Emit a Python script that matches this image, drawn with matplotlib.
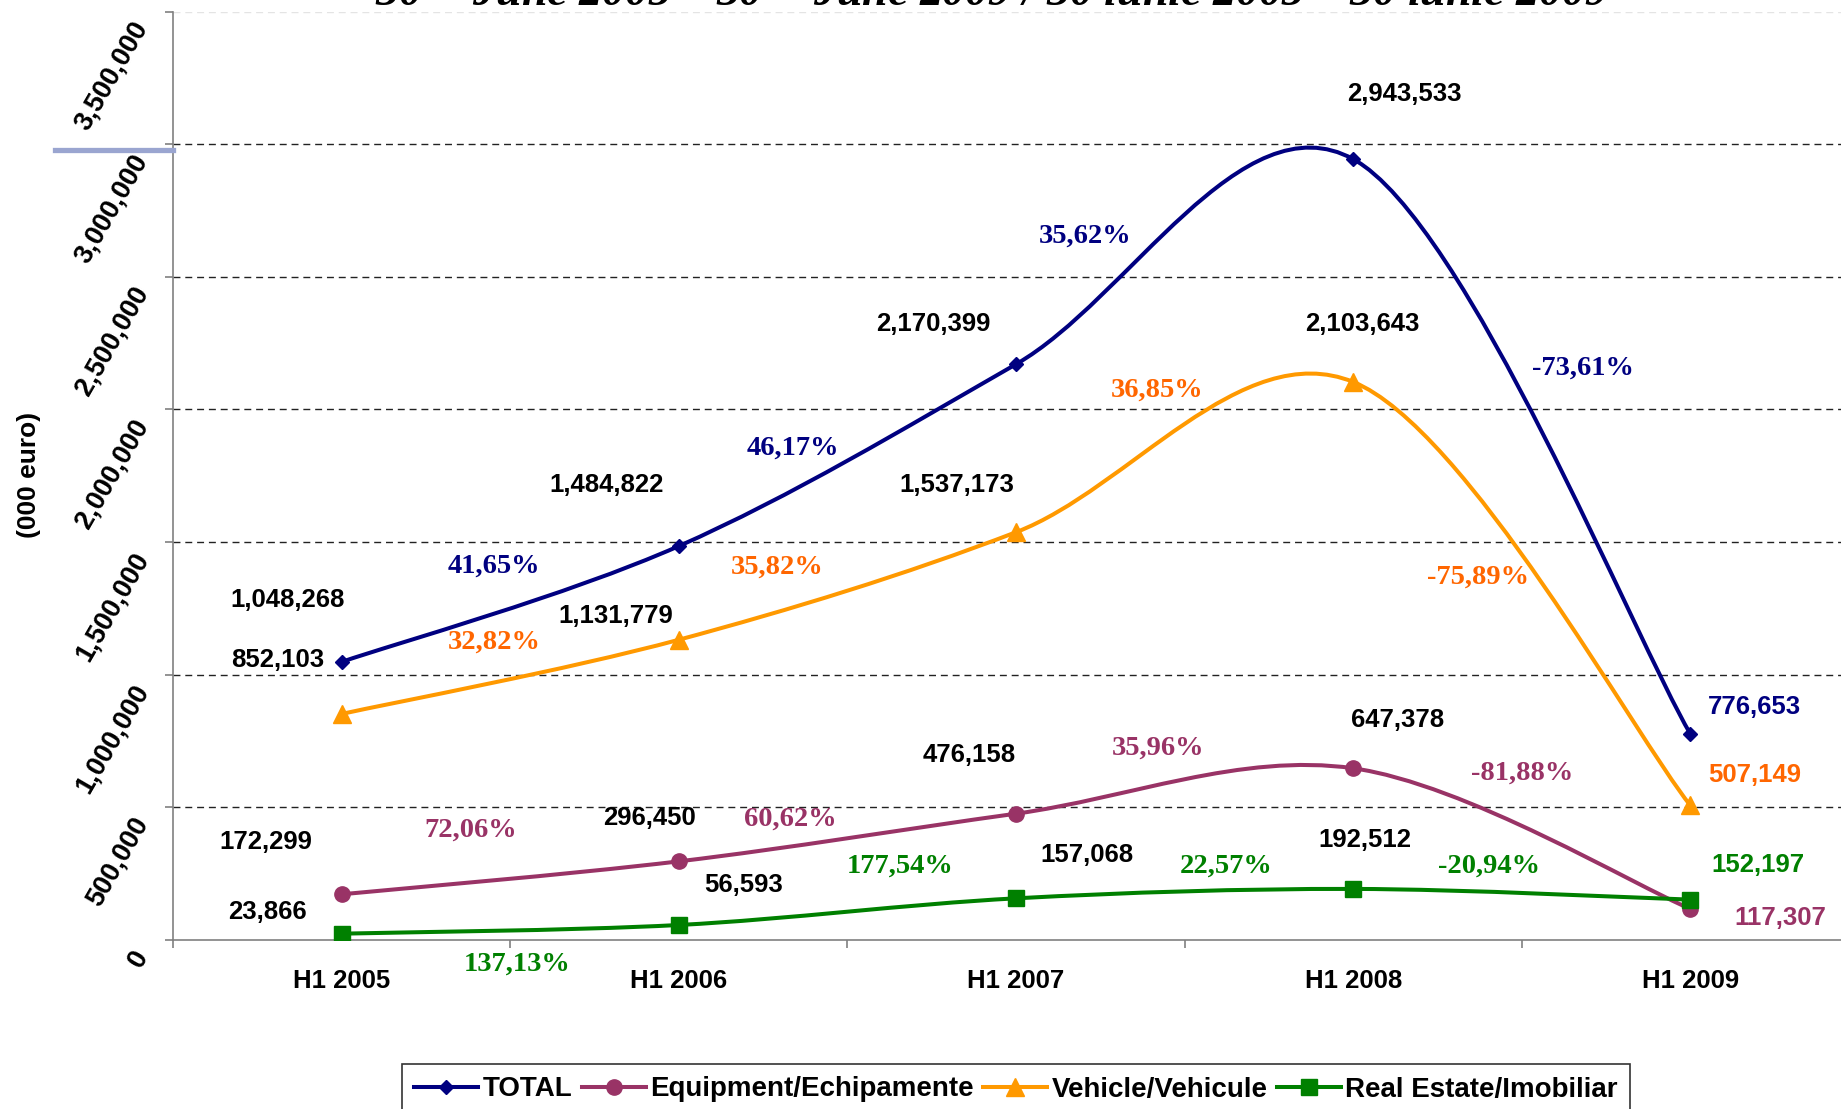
import numpy as np
import matplotlib
matplotlib.use('Agg')
import matplotlib.pyplot as plt
from matplotlib.path import Path
from matplotlib.patches import PathPatch
from matplotlib.lines import Line2D
import matplotlib.transforms as mtransforms

# --- data ---
categories = ['H1 2005', 'H1 2006', 'H1 2007', 'H1 2008', 'H1 2009']
total = [1048268, 1484822, 2170399, 2943533, 776653]
equipment = [172299, 296450, 476158, 647378, 117307]
vehicle = [852103, 1131779, 1537173, 2103643, 507149]
real_estate = [23866, 56593, 157068, 192512, 152197]
y_ticks = [0, 500000, 1000000, 1500000, 2000000, 2500000, 3000000, 3500000]

SANS = ['Liberation Sans', 'DejaVu Sans']
SERIF = ['Liberation Serif', 'DejaVu Serif']


def growth(vals):
    out = []
    for a, b in zip(vals[:-1], vals[1:]):
        out.append(('%.2f%%' % ((b / a - 1) * 100)).replace('.', ','))
    return out


def smooth_path(xs, ys):
    # excel style smoothed line: cubic bezier through the points
    pts = list(zip(xs, ys))
    n = len(pts)
    verts = [pts[0]]
    codes = [Path.MOVETO]
    for i in range(n - 1):
        p0 = pts[i - 1] if i > 0 else pts[i]
        p1 = pts[i]
        p2 = pts[i + 1]
        p3 = pts[i + 2] if i + 2 < n else pts[i + 1]
        c1 = (p1[0] + (p2[0] - p0[0]) / 6, p1[1] + (p2[1] - p0[1]) / 6)
        c2 = (p2[0] - (p3[0] - p1[0]) / 6, p2[1] - (p3[1] - p1[1]) / 6)
        verts += [c1, c2, p2]
        codes += [Path.CURVE4] * 3
    return Path(verts, codes)


fig = plt.figure(figsize=(18.41, 11.09), dpi=100)
ax = fig.add_axes([173 / 1841, 169 / 1109, 1686 / 1841, 928.5 / 1109])

x = np.arange(len(categories))

# series: values, line colour, marker, size, value-label colour at the end, pct colour
series = [
    ('TOTAL', total, '#000080', 'D', 7, '#000080', '#000080'),
    ('Equipment/Echipamente', equipment, '#993366', 'o', 11, '#993366', '#993366'),
    ('Vehicle/Vehicule', vehicle, '#FF9900', '^', 13, '#FF6600', '#FF6600'),
    ('Real Estate/Imobiliar', real_estate, '#008000', 's', 12, '#008000', '#008000'),
]

# label offsets in pixels (dx, dy) relative to the point
value_offsets = [
    [(-54, 62), (-72, 61), (-83, 40), (51, 65), (64, 27)],
    [(-76, 52), (-29, 43), (-47, 59), (44, 48), (90, -9)],
    [(-64, 54), (-63, 24), (-59, 47), (9, 58), (64, 30)],
    [(-74, 22), (65, 40), (71, 43), (12, 49), (68, 35)],
]
pct_offsets = [
    [(-16, 38), (-55, 7), (-99, 26), (61, 78)],
    [(-40, 48), (-57, 18), (-27, 43), (0, 65)],
    [(-16, 35), (-70, 19), (-27, 67), (-44, 17)],
    [(7, -35), (53, 45), (42, 27), (-33, 28)],
]

handles = []
for k, (name, vals, col, mk, ms, endcol, pcol) in enumerate(series):
    ax.add_patch(PathPatch(smooth_path(x, vals), facecolor='none', edgecolor=col,
                           lw=2.9, zorder=3 + k, capstyle='round', joinstyle='round'))
    ax.plot(x, vals, linestyle='none', marker=mk, markersize=ms, color=col,
            markeredgecolor=col, zorder=3 + k)
    handles.append(Line2D([], [], color=col, lw=2.9, marker=mk, markersize=ms))

    for i, v in enumerate(vals):
        tc = endcol if i == len(vals) - 1 else 'black'
        ax.annotate(f'{v:,}', (x[i], v), xytext=value_offsets[k][i],
                    textcoords='offset pixels', ha='center', va='center',
                    fontsize=18.5, fontweight='bold', color=tc, family=SANS,
                    zorder=10, annotation_clip=False)

    for i, s in enumerate(growth(vals)):
        mx = (x[i] + x[i + 1]) / 2
        my = (vals[i] + vals[i + 1]) / 2
        ax.annotate(s, (mx, my), xytext=pct_offsets[k][i],
                    textcoords='offset pixels', ha='center', va='center',
                    fontsize=20.5, fontweight='bold', color=pcol, family=SERIF,
                    zorder=10, annotation_clip=False)

# axes
ax.set_xlim(-0.5, 4.5)
ax.set_ylim(0, 3500000)
for spine in ['top', 'right']:
    ax.spines[spine].set_visible(False)
ax.spines['left'].set_color('#808080')
ax.spines['bottom'].set_color('#808080')
ax.spines['left'].set_linewidth(1.2)
ax.spines['bottom'].set_linewidth(1.2)

ax.set_xticks(x)
ax.set_xticklabels(categories, fontsize=18.5, fontweight='bold', family=SANS)
ax.set_xticks(np.arange(-0.5, 5.0, 1.0), minor=True)
ax.tick_params(axis='x', which='major', length=0, pad=21)
ax.tick_params(axis='x', which='minor', length=6, color='#808080', width=1.2)

ax.set_yticks(y_ticks)
ax.set_yticklabels([f'{t:,}' for t in y_ticks], fontsize=19.5, fontweight='bold',
                   family=SANS, rotation=60, ha='right', va='center',
                   rotation_mode='anchor')
ax.tick_params(axis='y', length=6, color='#808080', width=1.2, pad=16)
shift = mtransforms.ScaledTranslation(0, -12 / 100, fig.dpi_scale_trans)
for lab in ax.get_yticklabels():
    lab.set_transform(lab.get_transform() + shift)

for t in y_ticks[1:-1]:
    ax.axhline(t, color='#222222', lw=1, dashes=(5, 3.5), zorder=1)
ax.axhline(y_ticks[-1], color='#e4e4e4', lw=1, dashes=(5, 3.5), zorder=1)

fig.text(29 / 1841, 1 - 475 / 1109, '(000 euro)', rotation=90, ha='center', va='center',
         fontsize=19, fontweight='bold', family=SANS)

# odd light blue stroke at the left of the axis
fig.add_artist(Line2D([55 / 1841, 173 / 1841], [1 - 150 / 1109, 1 - 150 / 1109],
                      color='#9aa5d0', lw=3.8, transform=fig.transFigure))

# title, cut off at the top of the picture
fig.text(992 / 1841, 1 - 5 / 1109,
         r'30$^{\mathbf{th}}$ June 2005 – 30$^{\mathbf{th}}$ June 2009 / 30 iunie 2005 – 30 iunie 2009',
         ha='center', va='baseline', fontsize=33, fontweight='bold', style='italic',
         family=SERIF)

leg = fig.legend(handles, [s[0] for s in series], loc='upper center',
                 bbox_to_anchor=(1016 / 1841, 1 - 1064 / 1109), ncol=4,
                 frameon=True, fancybox=False, borderaxespad=0, handlelength=2.3,
                 handletextpad=0.15, columnspacing=0.35, borderpad=0.45,
                 prop={'family': SANS, 'weight': 'bold', 'size': 20})
leg.get_frame().set_edgecolor('black')
leg.get_frame().set_linewidth(1.2)

fig.savefig('out.png', dpi=100)
